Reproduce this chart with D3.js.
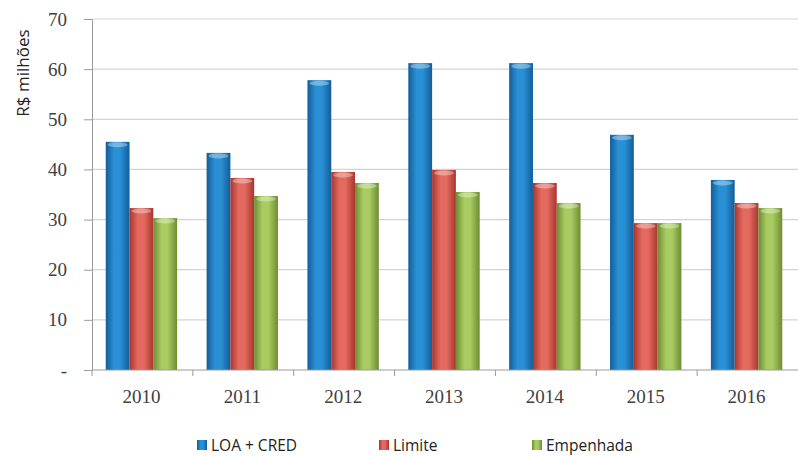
<!DOCTYPE html>
<html>
<head>
<meta charset="utf-8">
<script src="https://cdn.jsdelivr.net/npm/d3@7"></script>
<style>
  body { margin: 0; background: #fff; }
  svg { display: block; }
</style>
</head>
<body>
<svg id="chart" width="798" height="456"></svg>
<script>
"use strict";

// chart data
const years = ["2010", "2011", "2012", "2013", "2014", "2015", "2016"];
const seriesNames = ["LOA + CRED", "Limite", "Empenhada"];
const loaCred = [45.5, 43.3, 57.8, 61.2, 61.2, 46.9, 37.9];
const limite = [32.3, 38.3, 39.5, 39.9, 37.3, 29.3, 33.3];
const empenhada = [30.3, 34.7, 37.3, 35.5, 33.3, 29.3, 32.3];
const yTicks = [0, 10, 20, 30, 40, 50, 60, 70];

const seriesValues = [loaCred, limite, empenhada];
const colors = [
    { mid: "#2a90d6", edge: "#135d98" },
    { mid: "#e46a5f", edge: "#a8362e" },
    { mid: "#a9cc62", edge: "#6e8c32" }
];

const W = 798, H = 456;
const margin = { top: 19, right: 0, bottom: 86, left: 92 };
const serif = "'Liberation Serif', 'DejaVu Serif', serif";
const sans = "'Open Sans', 'Liberation Sans', sans-serif";

const svg = d3.select("#chart");
const defs = svg.append("defs");

colors.forEach((c, i) => {
    let g = defs.append("linearGradient")
        .attr("id", "grad" + i)
        .attr("x1", "0").attr("x2", "1").attr("y1", "0").attr("y2", "0");
    g.append("stop").attr("offset", "0%").attr("stop-color", c.edge);
    g.append("stop").attr("offset", "35%").attr("stop-color", c.mid);
    g.append("stop").attr("offset", "60%").attr("stop-color", c.mid);
    g.append("stop").attr("offset", "100%").attr("stop-color", c.edge);
});

const x = d3.scaleBand()
    .domain(years)
    .range([margin.left, W - margin.right]);

const xInner = d3.scaleBand()
    .domain(seriesNames)
    .range([0, x.bandwidth()])
    .paddingOuter(0.62);

const y = d3.scaleLinear()
    .domain([0, 70])
    .range([H - margin.bottom, margin.top]);

// gridlines
svg.append("g")
    .selectAll("line")
    .data(yTicks.filter(d => d > 0))
    .enter()
    .append("line")
    .attr("x1", margin.left)
    .attr("x2", W - margin.right)
    .attr("y1", d => y(d))
    .attr("y2", d => y(d))
    .attr("stroke", "#d4d4d4")
    .attr("stroke-width", 1.2);

// bars
const groups = svg.append("g")
    .selectAll("g")
    .data(years)
    .enter()
    .append("g")
    .attr("transform", d => "translate(" + (x(d) - 1) + ",0)");

const barData = (d, i) => seriesNames.map((s, j) => ({ s: s, j: j, v: seriesValues[j][i] }));

groups.selectAll("rect")
    .data(barData)
    .enter()
    .append("rect")
    .attr("x", d => xInner(d.s))
    .attr("width", xInner.bandwidth())
    .attr("y", d => y(d.v))
    .attr("height", d => y(0) - y(d.v))
    .attr("fill", d => "url(#grad" + d.j + ")");

// top caps for the cylinder look
groups.selectAll("ellipse")
    .data(barData)
    .enter()
    .append("ellipse")
    .attr("cx", d => xInner(d.s) + xInner.bandwidth() / 2)
    .attr("cy", d => y(d.v) + 3)
    .attr("rx", xInner.bandwidth() / 2 - 2)
    .attr("ry", 2.5)
    .attr("fill", "#ffffff")
    .attr("opacity", 0.35);

// y axis
const yAxis = svg.append("g")
    .attr("transform", "translate(" + margin.left + ",0)")
    .call(d3.axisLeft(y)
        .tickValues(yTicks)
        .tickSize(8)
        .tickPadding(17)
        .tickFormat(d => d === 0 ? "-" : d));

yAxis.selectAll("path, line").attr("stroke", "#9a9a9a");
yAxis.selectAll("text")
    .attr("font-family", serif)
    .attr("font-size", 19)
    .attr("fill", "#404040");

// x axis
const xAxis = svg.append("g")
    .attr("transform", "translate(0," + y(0) + ")");

xAxis.append("line")
    .attr("x1", margin.left)
    .attr("x2", W - margin.right)
    .attr("stroke", "#9a9a9a");

xAxis.selectAll("line.tk")
    .data(years)
    .enter()
    .append("line")
    .attr("class", "tk")
    .attr("x1", d => x(d))
    .attr("x2", d => x(d))
    .attr("y1", 0)
    .attr("y2", 6)
    .attr("stroke", "#9a9a9a");

xAxis.selectAll("text")
    .data(years)
    .enter()
    .append("text")
    .attr("x", d => x(d) + x.bandwidth() / 2 - 1)
    .attr("y", 33)
    .attr("text-anchor", "middle")
    .attr("font-family", serif)
    .attr("font-size", 19)
    .attr("fill", "#404040")
    .text(d => d);

// y axis title
svg.append("text")
    .attr("transform", "translate(29,73) rotate(-90)")
    .attr("text-anchor", "middle")
    .attr("font-family", sans)
    .attr("font-size", 17)
    .attr("fill", "#222")
    .text("R$ milhões");

// legend
const legendX = [197, 379, 532];
const legend = svg.append("g")
    .selectAll("g")
    .data(seriesNames)
    .enter()
    .append("g")
    .attr("transform", (d, i) => "translate(" + legendX[i] + ",440)");

legend.append("rect")
    .attr("width", 10)
    .attr("height", 10)
    .attr("fill", (d, i) => "url(#grad" + i + ")");

legend.append("text")
    .attr("x", 14)
    .attr("y", 10.5)
    .attr("font-family", sans)
    .attr("font-size", 15.5)
    .attr("fill", "#222")
    .text(d => d);
</script>
</body>
</html>
